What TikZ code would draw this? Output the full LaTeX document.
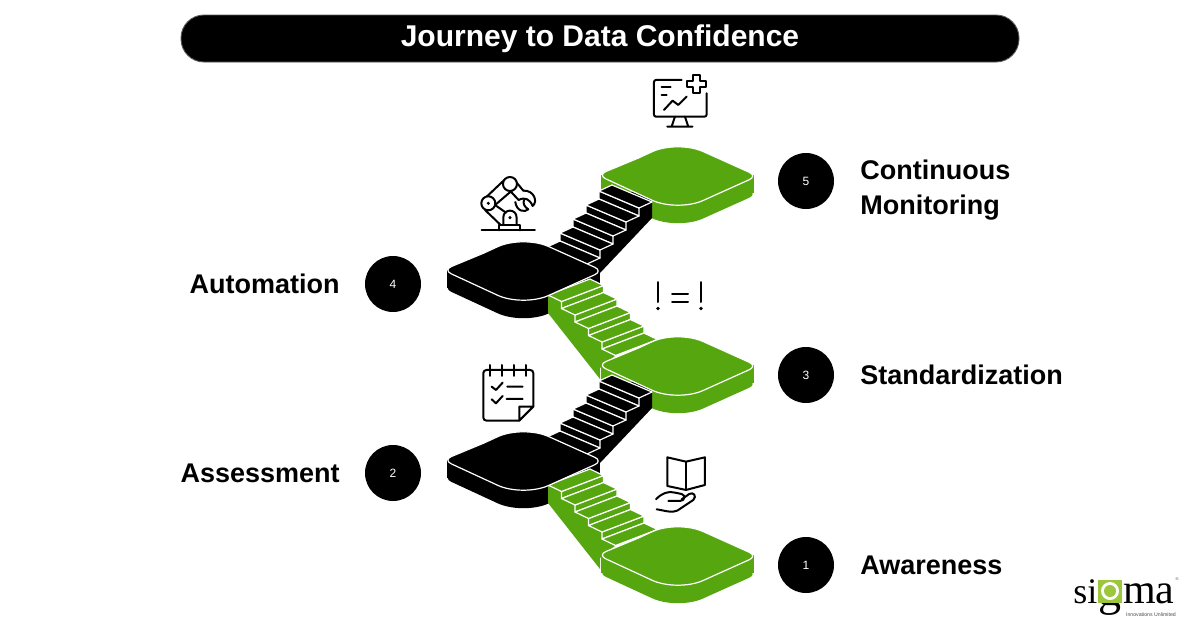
\documentclass[tikz,border=0pt]{standalone}
\usepackage{fontspec}
\setmainfont{Liberation Sans}
\newfontfamily\logofont{Liberation Serif}
\usetikzlibrary{positioning}
\definecolor{leaf}{HTML}{55A60F}
\definecolor{logoleaf}{HTML}{9CC63B}
\tikzstyle{pill} = [rectangle, draw=black!65, line width=0.9pt, fill=black, text=white, rounded corners=23pt, minimum width=838pt, minimum height=47pt, font=\bfseries\fontsize{30}{30}\selectfont]
\tikzstyle{stepnum} = [circle, fill=black, text=white, minimum size=56pt, inner sep=0pt, font=\fontsize{12}{12}\selectfont]
\tikzstyle{steplabel} = [inner sep=0pt, align=left, font=\bfseries\fontsize{27}{35}\selectfont]
\tikzstyle{icon} = [line width=2pt, line cap=round, line join=round]
\tikzstyle{treadline} = [draw=white, line width=1.2pt, line join=round]

% top face of a platform, local coordinates
\newcommand{\platformpath}{(38,-17) [rounded corners=28pt] -- (77,-35) [rounded corners=9pt] -- (157,1) [rounded corners=28pt] -- (77,37) [rounded corners=9pt] -- (-3,0) [sharp corners] -- cycle}
\newcommand{\platformside}[3]{%
  \begin{scope}[shift={(#1,#2)}]
    \fill[#3] (0.5,0) rectangle (153.5,18);
    \begin{scope}[shift={(0,18)}]
      \fill[#3] \platformpath;
    \end{scope}
  \end{scope}}
\newcommand{\platformtop}[3]{%
  \begin{scope}[shift={(#1,#2)}]
    \draw[treadline, fill=#3] \platformpath;
  \end{scope}}
% one flight: colour, start x, y, tread x, y, riser, width x, y
\newcommand{\stairflight}[8]{%
  \foreach \k in {0,...,3} {
    \draw[treadline, fill=#1] ({#2+\k*(#4)+(#4)},{#3+\k*(#5+#6)+(#5)}) -- ++(0,#6) -- ++(#7,#8) -- ++(0,-#6) -- cycle;
  }
  \foreach \k in {0,...,4} {
    \draw[treadline, fill=#1] ({#2+\k*(#4)},{#3+\k*(#5+#6)}) -- ++(#4,#5) -- ++(#7,#8) -- ++(-#4,-#5) -- cycle;
  }}

\begin{document}
\begin{tikzpicture}[x=1pt, y=-1pt]
  \useasboundingbox (0,0) rectangle (1200,627);

  % Title
  \node (title) [pill] at (600,38.5) {Journey to Data Confidence};

  % Platforms and stairs, drawn from the bottom up
  \platformside{600.5}{555}{leaf}
  \foreach \shifty in {190,0} {
    \platformside{446}{{270+\shifty}}{black}
    \begin{scope}[shift={(0,\shifty)}]
      \fill[leaf] (569,287) -- (636.5,347.5) -- (615.5,355.5) -- (600,368) -- (600,379) -- (548,313) -- (548,295) -- cycle;
      \stairflight{leaf}{548}{295}{13.5}{6.5}{7}{42}{-16}
    \end{scope}
    \platformtop{600.5}{{365+\shifty}}{leaf}
    \platformside{600.5}{{175+\shifty}}{leaf}
    \begin{scope}[shift={(0,\shifty)}]
      \fill[black] (567,255.5) -- (632,191.5) -- (652,200) -- (652,218) -- (600,273) -- (587,264) -- cycle;
      \stairflight{black}{547}{247}{13}{-6}{-8}{40}{17}
    \end{scope}
    \platformtop{446}{{270+\shifty}}{black}
  }
  \platformtop{600.5}{175}{leaf}

  % Numbered circles
  \node (num_one) [stepnum] at (806,565) {1};
  \node (num_two) [stepnum] at (393,473) {2};
  \node (num_three) [stepnum] at (806,375) {3};
  \node (num_four) [stepnum] at (393,284) {4};
  \node (num_five) [stepnum] at (806,181) {5};

  % Labels
  \node (lab_one) [steplabel, right=26pt of num_one] {Awareness};
  \node (lab_two) [steplabel, left=25pt of num_two] {Assessment};
  \node (lab_three) [steplabel, right=26pt of num_three] {Standardization};
  \node (lab_four) [steplabel, left=25pt of num_four] {Automation};
  \node (lab_five) [steplabel, right=26pt of num_five, yshift=-9pt] {Continuous\\Monitoring};

  % Monitor icon
  \begin{scope}[shift={(630,70)}, x=0.333pt, y=-0.333pt, icon]
    \draw[rounded corners=2pt] (155,30) -- (72,30) -- (72,140) -- (230,140) -- (230,70);
    \draw (135,140) -- (125,170) (165,140) -- (175,170) (112,170) -- (188,170);
    \draw (190,14) -- (210,14) -- (210,32) -- (229,32) -- (229,52) -- (210,52) -- (210,70) -- (190,70) -- (190,52) -- (171,52) -- (171,32) -- (190,32) -- cycle;
    \draw (95,52) -- (122,52) (95,75) -- (110,75);
    \draw (102,120) -- (128,92) -- (145,105) -- (170,80);
  \end{scope}

  % Robot arm icon
  \begin{scope}[shift={(470,170)}, x=0.333pt, y=-0.333pt, icon]
    \draw (35,181) -- (195,181);
    \draw (88,181) -- (88,165) -- (150,165) -- (150,181);
    \draw (100,165) -- (100,143) .. controls (100,115) and (140,115) .. (140,143) -- (140,165);
    \draw (45,120) -- (92,165) (75,105) -- (108,128);
    \draw (48,82) -- (105,28) (72,108) -- (128,60);
    \draw (132,28) -- (160,62) (118,60) -- (146,90);
    \draw (160,62) .. controls (192,60) and (205,95) .. (188,108) .. controls (180,88) and (165,80) .. (146,90);
    \draw (136,96) .. controls (140,125) and (165,128) .. (175,118) .. controls (165,112) and (158,102) .. (162,90);
    \draw[fill=white] (55,100) circle (7pt);
    \draw[fill=white] (120,42) circle (7pt);
    \fill (55,100) circle (1.7pt);
    \fill (120,143) circle (1.7pt);
  \end{scope}

  % Not-equal icon
  \begin{scope}[icon]
    \draw (658,282) -- (658,302) (701,282) -- (701,302);
    \fill (658,308.5) circle (1.8pt) (701,308.5) circle (1.8pt);
    \draw (672,293.5) -- (688,293.5) (672,301.5) -- (688,301.5);
  \end{scope}

  % Checklist icon
  \begin{scope}[shift={(470,360)}, x=0.333pt, y=-0.333pt, icon]
    \draw[rounded corners=3pt] (148,182) -- (40,182) -- (40,30) -- (190,30) -- (190,140);
    \draw (190,140) -- (148,182) -- (148,140) -- cycle;
    \foreach \ringx in {60,95,132,168} {
      \draw (\ringx,15) -- (\ringx,48);
    }
    \draw (65,80) -- (78,90) -- (98,68) (112,80) -- (158,80);
    \draw (65,118) -- (78,130) -- (98,108) (110,117) -- (158,117);
  \end{scope}

  % Book and hand icon
  \begin{scope}[shift={(640,450)}, x=0.333pt, y=-0.333pt, icon]
    \draw (138,35) -- (82,22) -- (82,108) -- (138,120) -- (195,105) -- (195,22) -- cycle;
    \draw (138,35) -- (138,120);
    \draw (48,148) .. controls (65,130) and (85,122) .. (105,128) -- (125,132) .. controls (138,136) and (135,153) .. (120,153) -- (85,153);
    \draw (50,178) .. controls (75,182) and (95,190) .. (112,182) -- (160,150) .. controls (172,138) and (160,125) .. (148,132) -- (125,148);
  \end{scope}

  % Logo
  \fill[logoleaf] (1098,580) rectangle (1122,603);
  \fill[white] (1110,591) circle (9pt);
  \fill[logoleaf] (1110,591) circle (6pt);
  \node (logo_si) [inner sep=0pt, anchor=base east, font=\logofont\fontsize{36}{36}\selectfont] at (1097.5,603) {si};
  \node (logo_ma) [inner sep=0pt, anchor=base west, font=\logofont\fontsize{42}{42}\selectfont] at (1123,603) {ma};
  \begin{scope}
    \clip (1090,603) rectangle (1130,625);
    \node (logo_g) [inner sep=0pt, anchor=base, font=\logofont\fontsize{46}{46}\selectfont] at (1110,605) {g};
  \end{scope}
  \node (logo_tag) [inner sep=0pt, anchor=base east, font=\fontsize{5.2}{6}\selectfont, text=black!70] at (1176,616) {Innovations Unlimited};
  \node (logo_reg) [inner sep=0pt, font=\fontsize{4}{4}\selectfont, text=black!70] at (1177,579) {®};
\end{tikzpicture}
\end{document}
